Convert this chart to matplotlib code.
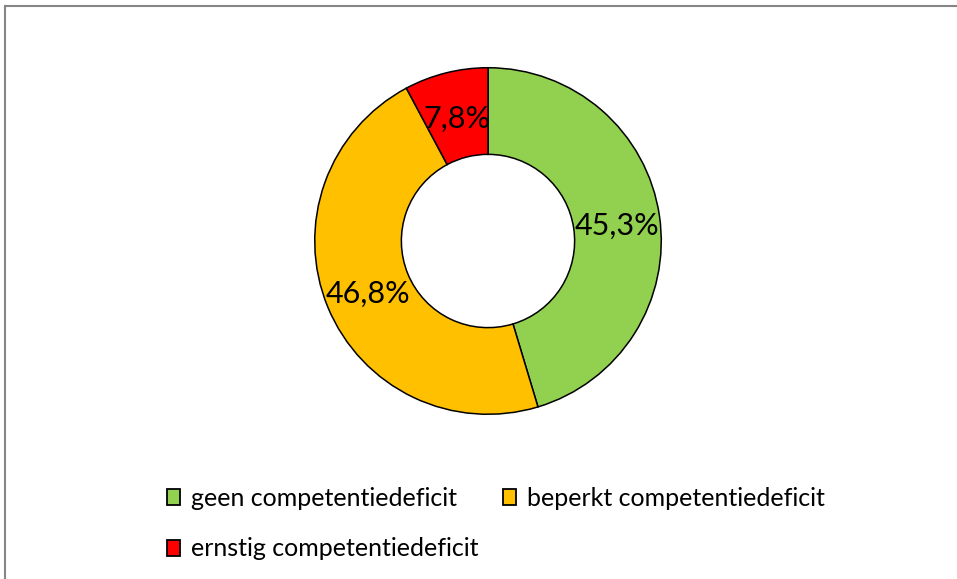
import matplotlib.pyplot as plt
from matplotlib.patches import Patch
from matplotlib.lines import Line2D

plt.rcParams['font.family'] = ['Lato', 'DejaVu Sans']

categories = ['geen competentiedeficit', 'beperkt competentiedeficit', 'ernstig competentiedeficit']
values = [45.3, 46.8, 7.8]
colors = ['#92D050', '#FFC000', '#FF0000']

W, H = 957, 579
fig = plt.figure(figsize=(W / 100, H / 100), dpi=100)

# donut: center (488, 241) px, outer radius 175 px
cx, cy, r = 488, 241, 175
ax = fig.add_axes([(cx - r) / W, (H - cy - r) / H, 2 * r / W, 2 * r / H])
wedges, texts, pcts = ax.pie(values, colors=colors, startangle=90, counterclock=False,
                             radius=1, pctdistance=0.75,
                             autopct=lambda p: ('%.1f%%' % p).replace('.', ','),
                             wedgeprops=dict(width=0.5, edgecolor='black', linewidth=1.1),
                             textprops=dict(fontsize=22, color='black'))
for t in pcts:
    x, y = t.get_position()
    t.set_position((x, y - 0.02))
ax.set_xlim(-1.01, 1.01)
ax.set_ylim(-1.01, 1.01)
ax.set_aspect('auto')
ax.axis('off')

# legend: row1 geen, beperkt ; row2 ernstig
handles = [Patch(facecolor=c, edgecolor='black', linewidth=1.3) for c in colors]
order = [0, 2, 1]
fig.legend([handles[i] for i in order], [categories[i] for i in order],
           ncol=2, loc='upper left', bbox_to_anchor=(167 / W, 1 - 487 / H),
           frameon=False, fontsize=18, handlelength=0.5, handleheight=0.6,
           handletextpad=0.45, columnspacing=1.0, labelspacing=1.1, borderpad=0,
           borderaxespad=0)

# outer chart frame (only top and left edges visible)
fig.add_artist(Line2D([5 / W, 5 / W], [0, 1 - 6 / H], color='#868686', linewidth=1.5))
fig.add_artist(Line2D([5 / W, 1], [1 - 6 / H, 1 - 6 / H], color='#868686', linewidth=1.5))

fig.savefig('out.png', dpi=100)
